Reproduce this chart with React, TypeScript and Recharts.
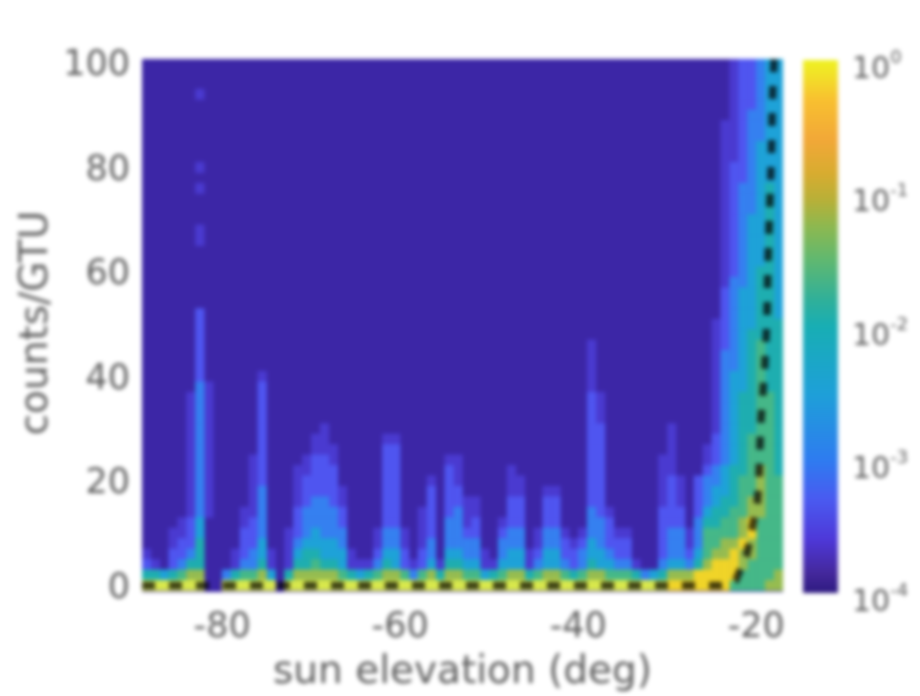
import { Bar, BarChart, CartesianGrid, Scatter, ScatterChart, XAxis, YAxis } from "recharts";

// sun elevation histogram, counts/GTU per 1 deg bin, log colour scale

const xTicks = [-80, -60, -40, -20];
const yTicks = [0, 20, 40, 60, 80, 100];
const expTicks = [-4, -3, -2, -1, 0];
const countRows = [0, 2, 4, 6, 8, 10, 12, 14, 16, 18, 20, 22, 24, 26, 28, 30, 32, 34, 36, 38, 40, 42, 44, 46, 48, 50, 52, 54, 56, 58, 60, 62, 64, 66, 68, 70, 72, 74, 76, 78, 80, 82, 84, 86, 88, 90, 92, 94, 96, 98, 100];

// highest count row reached by each colour level, one entry per elevation bin (-89 .. -18)
const reach36 = [6, 4, 2, 10, 12, 16, 52, -1, -1, 2, 6, 14, 24, 40, 6, -1, 10, 22, 24, 28, 30, 26, 18, 6, 4, 4, 10, 28, 28, 10, 4, 14, 20, 4, 24, 24, 16, 16, 6, 4, 12, 22, 20, 6, 10, 18, 18, 10, 8, 10, 46, 36, 14, 10, 10, 4, 2, 2, 24, 30, 20, 10, 20, 26, 50, 88, 100, 100, 100, 100, 100, 100];
const reach33 = [4, 2, 2, 6, 8, 12, 52, -1, -1, 2, 2, 10, 12, 38, 2, -1, 2, 14, 20, 24, 24, 22, 14, 2, 2, 2, 6, 26, 26, 6, 2, 6, 18, 2, 22, 18, 10, 12, 2, 2, 10, 16, 16, 2, 6, 16, 16, 8, 6, 8, 36, 30, 12, 8, 8, 2, 2, 2, 14, 20, 14, 6, 20, 22, 28, 56, 80, 100, 100, 100, 100, 100];
const reach30 = [2, 2, 2, 2, 4, 6, 38, -1, -1, 2, 2, 4, 6, 18, 2, -1, 2, 8, 14, 16, 16, 14, 10, 2, 2, 2, 4, 10, 10, 2, 2, 2, 8, 2, 12, 14, 8, 8, 2, 2, 8, 10, 10, 2, 4, 10, 10, 4, 2, 6, 14, 12, 6, 4, 4, 2, 2, 2, 4, 10, 10, 4, 12, 20, 22, 44, 58, 76, 90, 100, 100, 100];
const reach25 = [2, 2, 2, 2, 2, 4, 12, -1, -1, 0, 2, 2, 2, 8, 2, -1, 2, 6, 8, 10, 8, 8, 6, 2, 2, 2, 2, 6, 6, 2, 0, 2, 4, 2, 6, 6, 4, 4, 2, 2, 4, 6, 6, 2, 2, 6, 6, 2, 2, 2, 8, 6, 4, 2, 2, 2, 0, 2, 2, 4, 4, 2, 6, 14, 18, 22, 40, 56, 70, 84, 100, 100];
const reach20 = [2, 2, 0, 2, 2, 4, 8, -1, -1, 0, 2, 2, 2, 4, 0, -1, 2, 4, 6, 6, 4, 4, 2, 2, 0, 2, 2, 4, 2, 2, 0, 2, 2, 2, 4, 4, 2, 2, 0, 2, 2, 2, 2, 2, 2, 2, 2, 2, 2, 2, 4, 2, 2, 2, 2, 2, 0, 0, 2, 2, 2, 2, 4, 12, 14, 16, 22, 36, 48, 60, 76, 50];
const reach15 = [0, 0, 0, 0, 2, 2, 2, -1, -1, 0, 0, 2, 2, 2, 0, -1, 0, 2, 2, 4, 2, 2, 2, 0, 0, 0, 2, 2, 2, 2, 0, 2, 2, 0, 2, 2, 2, 2, 0, 0, 2, 2, 2, 0, 2, 2, 2, 2, 0, 2, 2, 2, 2, 2, 2, 0, 0, 0, 0, 2, 2, 2, 2, 10, 10, 12, 14, 20, 28, 46, 36, 20];
const reach10 = [0, 0, 0, 0, 0, 2, 2, -1, -1, 0, 0, 0, 0, 2, 0, -1, 0, 2, 2, 2, 2, 2, 0, 0, 0, 0, 0, 2, 2, 0, 0, 0, 2, 0, 2, 2, 0, 0, 0, 0, 0, 2, 2, 0, 0, 2, 2, 0, 0, 0, 2, 2, 0, 0, 0, 0, 0, 0, 0, 2, 2, 2, 2, 4, 6, 8, 8, 12, 16, 22, -1, -1];
const reach05 = [-1, -1, -1, -1, -1, -1, -1, -1, -1, -1, -1, -1, -1, -1, -1, -1, -1, -1, -1, -1, -1, -1, -1, -1, -1, -1, -1, -1, -1, -1, -1, -1, -1, -1, -1, -1, -1, -1, -1, -1, -1, -1, -1, -1, -1, -1, -1, -1, -1, -1, -1, -1, -1, -1, -1, -1, -1, -1, -1, 0, 0, 0, 2, 2, 4, 4, 6, 8, 12, -1, -1, -1];
// pale bottom row between the dashes
const reachBase = [0, 0, 0, 0, 0, 0, 0, -1, -1, 0, 0, 0, 0, 0, 0, -1, 0, 0, 0, 0, 0, 0, 0, 0, 0, 0, 0, 0, 0, 0, 0, 0, 0, 0, 0, 0, 0, 0, 0, 0, 0, 0, 0, 0, 0, 0, 0, 0, 0, 0, 0, 0, 0, 0, 0, 0, 0, 0, 0, -1, -1, -1, -1, -1, -1, -1, -1, -1, -1, -1, -1, -1];

// cells that do not follow the column's falling profile: [bin, from count, to count, level]
const patches = [
  [6, 94, 94, 1], [6, 80, 80, 1], [6, 76, 76, 1], [6, 68, 68, 1], [6, 66, 66, 1],
  [5, 18, 36, 1], [7, 14, 38, 1],
  [66, 0, 0, 6], [67, 0, 2, 6], [67, 4, 6, 7], [68, 0, 4, 6], [68, 6, 8, 7],
  [69, 0, 12, 6], [70, 0, 0, 7], [71, 0, 0, 7], [71, 2, 2, 7],
];

const levelReach = [reach36, reach33, reach30, reach25, reach20, reach15, reach10, reach05, reachBase];
const levelColors = ["#4a3ad0", "#4f55f0", "#3580f0", "#1ea2d8", "#1eaeb0", "#45b888", "#96bc50", "#f0d428", "#d8e84c"];

// dashed curve, [elevation, counts]
const curveX = [-89, -24, -23, -22.3, -21.1, -20.5, -19.9, -19.7, -19.6, -19.5, -19.05, -18.8, -18.7, -18.5, -18.3, -18.2, -18];
const curveY = [0, 0, 0.2, 1, 5.8, 10.6, 15.8, 20.8, 26, 31, 41.7, 51.4, 61.8, 72, 82, 92.4, 100.7];

const barExp = [0, -0.12, -0.3, -0.6, -0.85, -1.05, -1.25, -1.5, -1.8, -2, -2.5, -3, -3.3, -3.6, -3.85, -4];
const barColors = ["#eef222", "#f2e028", "#f8c030", "#f2a838", "#d8ac30", "#b8b038", "#8db850", "#60b870", "#30b09a", "#18aeb4", "#1ea0d8", "#2e7cf0", "#4a5af0", "#4e38d8", "#44289c", "#2e1a80"];

const INK = "#5f5f5f";
const FONT = "'DejaVu Sans', sans-serif";

const cells = levelColors.map(() => [] as { x: number; y: number }[]);
for (let bin = 0; bin < reach36.length; bin++) {
  for (const row of countRows) {
    let level = 0;
    levelReach.forEach((reach, i) => {
      if (reach[bin] >= row) level = i + 1;
    });
    for (const [b, from, to, lv] of patches) {
      if (b === bin && row >= from && row <= to) level = lv;
    }
    if (level > 0) cells[level - 1].push({ x: -88.5 + bin, y: row });
  }
}
const curve = curveX.map((x, i) => ({ x, y: curveY[i] }));
const colorbarData = [{ name: "scale", range: [-4, 0] }];

const HeatCell = ({ cx, cy, fill }: any) => (
  <rect x={cx - 4.7} y={cy - 5.5} width={9.4} height={11} fill={fill} />
);

const ExpTick = ({ x, y, payload }: any) => (
  <text x={x - 6} y={y + 18} fontFamily={FONT} fontSize={30} fill={INK}>
    10
    <tspan dy={-15} fontSize={18}>
      {payload.value === 0 ? "0" : payload.value}
    </tspan>
  </text>
);

const YTitle = () => (
  <text transform="translate(33,323) rotate(-90)" textAnchor="middle" dominantBaseline="central" fontFamily={FONT} fontSize={39} fill={INK}>
    counts/GTU
  </text>
);

export default function App() {
  return (
    <div style={{ position: "absolute", left: 0, top: 0, width: 920, height: 696, filter: "blur(2.1px)", background: "#fff" }}>
      <ScatterChart width={920} height={696} margin={{ top: 59, right: 137, bottom: 0, left: 0 }}>
        <CartesianGrid fill="#3c26a6" stroke="none" horizontal={false} vertical={false} />
        <XAxis
          type="number"
          dataKey="x"
          domain={[-89, -17]}
          ticks={xTicks}
          allowDataOverflow
          height={104}
          tickLine={false}
          axisLine={false}
          tickMargin={14}
          tick={{ fontSize: 35, fill: INK, fontFamily: FONT }}
          label={{ value: "sun elevation (deg)", position: "insideBottom", offset: 13, fontSize: 39, fill: INK, fontFamily: FONT }}
        />
        <YAxis
          type="number"
          dataKey="y"
          domain={[-1.25, 100.75]}
          ticks={yTicks}
          allowDataOverflow
          width={142}
          tickLine={false}
          axisLine={false}
          tickMargin={6}
          tick={{ fontSize: 35, fill: INK, fontFamily: FONT }}
          label={{ content: <YTitle /> }}
        />
        {cells.map((data, i) => (
          <Scatter key={i} data={data} fill={levelColors[i]} shape={HeatCell} isAnimationActive={false} />
        ))}
        <Scatter
          data={curve}
          line={{ stroke: "#000", strokeWidth: 7.5, strokeDasharray: "13 14", strokeOpacity: 0.72 }}
          lineType="joint"
          shape={() => <g />}
          isAnimationActive={false}
        />
      </ScatterChart>
      <div style={{ position: "absolute", left: 803, top: 0 }}>
        <BarChart width={117} height={696} data={colorbarData} barCategoryGap={0} margin={{ top: 60, right: 0, bottom: 103, left: 0 }}>
          <defs>
            <linearGradient id="colorbar" x1="0" y1="0" x2="0" y2="1">
              {barExp.map((e, i) => (
                <stop key={e} offset={`${(-e / 4) * 100}%`} stopColor={barColors[i]} />
              ))}
            </linearGradient>
          </defs>
          <XAxis dataKey="name" hide />
          <YAxis
            orientation="right"
            type="number"
            domain={[-4, 0]}
            ticks={expTicks}
            width={82}
            tickLine={false}
            axisLine={false}
            tickMargin={14}
            tick={<ExpTick />}
          />
          <Bar dataKey="range" fill="url(#colorbar)" isAnimationActive={false} />
        </BarChart>
      </div>
    </div>
  );
}
